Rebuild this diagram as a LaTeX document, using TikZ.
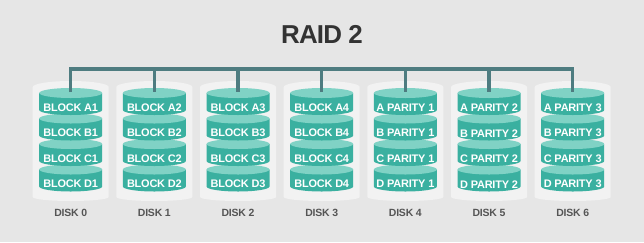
\documentclass[tikz,border=0pt]{standalone}
\usepackage{fontspec}
\setmainfont{Liberation Sans}
\newfontfamily\titlefont[LetterSpace=-3]{Liberation Sans}
\newfontfamily\tightfont[LetterSpace=-2]{Liberation Sans}
\definecolor{pagebg}{HTML}{E6E6E6}
\definecolor{diskbg}{HTML}{F2F2F2}
\definecolor{platterbody}{HTML}{3AB0A0}
\definecolor{plattertop}{HTML}{80D2C5}
\definecolor{buscol}{HTML}{4E7C80}
\definecolor{titlecol}{HTML}{333333}
\definecolor{labelcol}{HTML}{555555}
\begin{document}
\begin{tikzpicture}[x=1bp,y=1bp,
  titlestyle/.style={font=\titlefont\bfseries\fontsize{26}{28}\selectfont, text=titlecol, inner sep=0pt},
  plattertext/.style={font=\tightfont\bfseries\fontsize{11}{12}\selectfont, text=white, inner sep=0pt},
  disklabel/.style={font=\tightfont\bfseries\fontsize{10.5}{11}\selectfont, text=labelcol, inner sep=0pt},
  busline/.style={draw=buscol, line width=3.5bp, line join=miter}]
\fill[pagebg] (0,0) rectangle (644,-242);
\useasboundingbox (0,0) rectangle (644,-242);
\node[titlestyle] (title) at (322,-34) {RAID 2};
\foreach \k in {0,...,6} {
  \pgfmathsetmacro\xc{70.7+83.67*\k}
  % disk background
  \fill[diskbg] (\xc-38,-87) arc[start angle=180,end angle=0,x radius=38,y radius=6]
     -- (\xc+38,-197) arc[start angle=0,end angle=-180,x radius=38,y radius=4] -- cycle;
  % platters, bottom first
  \foreach \i/\L in {3/D,2/C,1/B,0/A} {
    \pgfmathsetmacro\yi{-(93+25.5*\i)}
    \fill[platterbody] (\xc-31.5,\yi) -- (\xc-31.5,\yi-17)
       arc[start angle=180,end angle=360,x radius=31.5,y radius=5]
       -- (\xc+31.5,\yi) -- cycle;
    \fill[plattertop] (\xc,\yi) ellipse[x radius=31.5,y radius=5];
    \node[plattertext] (t\k\L) at (\xc,\yi-14.7)
      {\ifnum\k<4 BLOCK \L\number\numexpr\k+1\relax\else\L\ PARITY \number\numexpr\k-3\relax\fi};
  }
  \node[disklabel] (disk\k) at (\xc,-213) {DISK \k};
  \coordinate (top\k) at (\xc,-92);
}
\coordinate (busy) at (0,-69);
\draw[busline] (top0) -- (top0 |- busy) -- (top6 |- busy) -- (top6);
\foreach \k in {1,...,5} {
  \draw[busline] (top\k |- busy) -- (top\k);
}
\end{tikzpicture}
\end{document}
